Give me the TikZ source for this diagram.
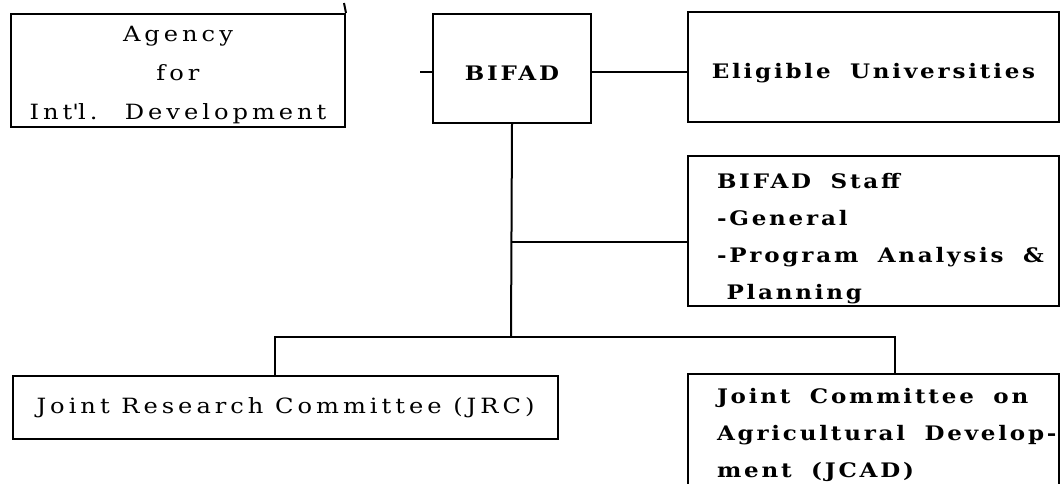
\documentclass[tikz,border=0pt]{standalone}
\usepackage{fontspec}
\setmainfont{DejaVu Serif}
\newfontfamily\plainfont{DejaVu Serif}[FakeStretch=1.15, LetterSpace=19]
\newfontfamily\heavyfont{DejaVu Serif}[FakeStretch=1.15, LetterSpace=14, WordSpace=1.8]
\hfuzz=100pt

\begin{document}
\begin{tikzpicture}[
		x=1pt, y=-1pt,
		line width=2pt,
		box/.style={draw, rectangle, anchor=north west, inner sep=0pt},
		plainbox/.style={box, font=\plainfont\fontsize{21}{39}\selectfont, align=center},
		heavybox/.style={box, font=\heavyfont\bfseries\fontsize{20}{37}\selectfont, align=center},
		listbox/.style={heavybox, align=flush left, inner xsep=29pt, text width=313pt},
	]
		\useasboundingbox (0,0) rectangle (1061,483);

		\begin{scope}
			\node (agency) [plainbox, minimum width=334pt, minimum height=113pt, text height=97pt, text depth=0pt] at (10,13) {Agency\\for\\Int\textquotesingle l.~ Development};
			\node (bifad) [heavybox, minimum width=158pt, minimum height=109pt, text height=23pt, text depth=0pt] at (432,13) {BIFAD};
			\node (elig) [heavybox, minimum width=371pt, minimum height=110pt, text height=22pt, text depth=0pt] at (687,11) {Eligible Universities};
			\node (staff) [listbox, minimum height=150pt, text height=15pt, text depth=101pt] at (687,155) {BIFAD Staff\\-General\\\mbox{-Program Analysis \&}\\\phantom{-}Planning};
		\end{scope}

		\begin{scope}
			\node (jrc) [plainbox, minimum width=545pt, minimum height=63pt] at (12,375) {Joint Research Committee (JRC)};
			\node (jcad) [listbox, minimum height=121pt] at (687,373) {\mbox{Joint Committee on}\\\mbox{Agricultural Develop-}\\\mbox{ment (JCAD)}};
		\end{scope}

		\coordinate (spur) at (344,3);
		\coordinate (stub) at (420,72);
		\coordinate (staff tap) at (511,242);
		\coordinate (bus) at (511,337);
		\coordinate (jrc tap) at (275,337);
		\coordinate (jcad tap) at (895,337);

		\draw (agency.north east) -- (spur);
		\draw (stub) -- (stub -| bifad.west);
		\draw (stub -| bifad.east) -- (stub -| elig.west);
		\draw (bifad.south) -- (bus);
		\draw (staff tap) -- (staff tap -| staff.west);
		\draw (jrc tap |- jrc.north) -- (jrc tap) -- (jcad tap) -- (jcad tap |- jcad.north);
	\end{tikzpicture}
\end{document}
